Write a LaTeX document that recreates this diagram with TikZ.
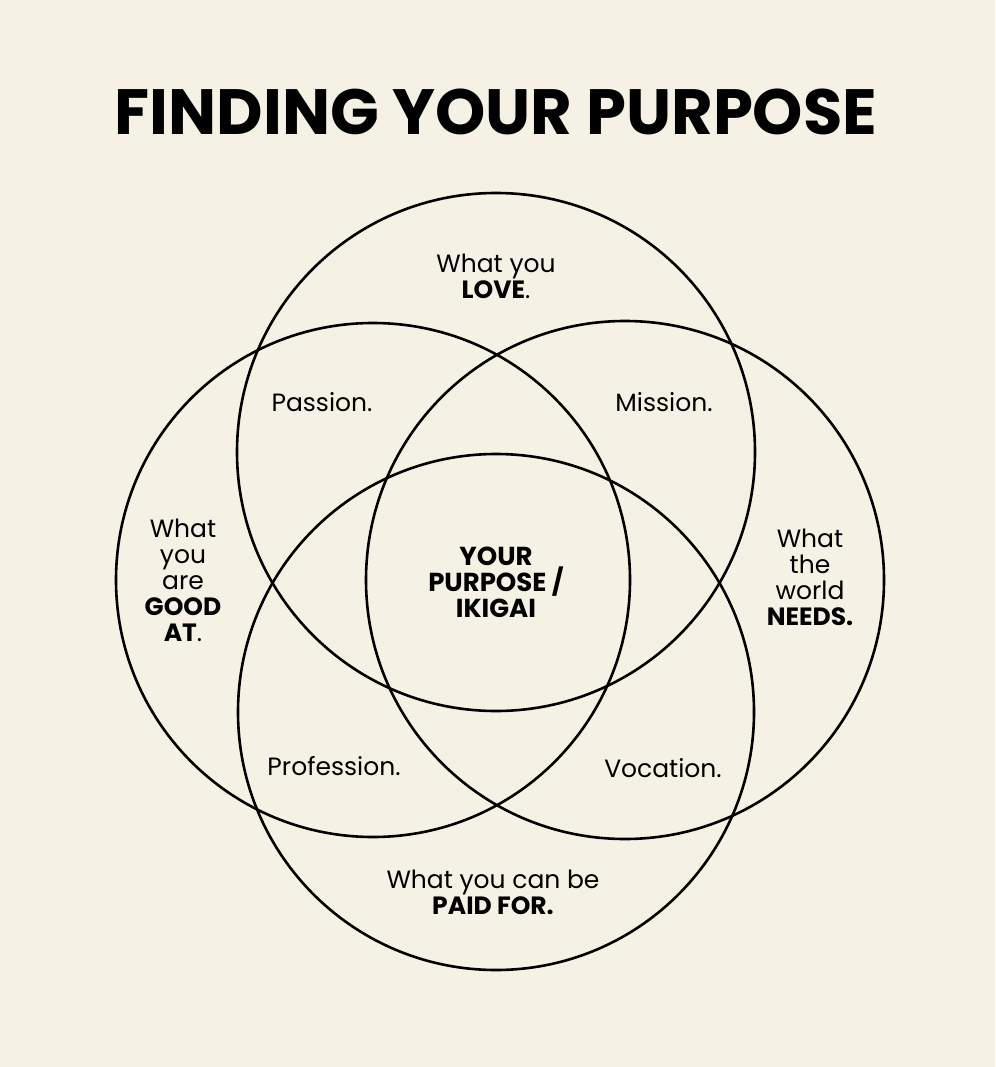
\documentclass[tikz,border=0pt]{standalone}
\usepackage{fontspec}
\setmainfont{Poppins}
\definecolor{bg}{HTML}{F5F1E4}
\begin{document}
\begin{tikzpicture}[x=1pt,y=-1pt,
  ring/.style={draw=black,line width=2.6pt},
  lab/.style={align=center,font=\fontsize{25}{26}\selectfont,inner sep=0pt}]
\useasboundingbox[fill=bg] (0,0) rectangle (995,1067);
\node[font=\fontsize{64}{70}\selectfont\bfseries,inner sep=0pt] (title) at (496,112) {FINDING YOUR PURPOSE};
\draw[ring] (496,452) circle (259);
\draw[ring] (373,580) circle (257);
\draw[ring] (625,580) circle (259);
\draw[ring] (496,712) circle (258);
\node[lab] (love) at (496,276) {What you\\\textbf{LOVE}.};
\node[lab] (passion) at (322,402) {Passion.};
\node[lab] (mission) at (664,402) {Mission.};
\node[lab] (good) at (183,580) {What\\you\\are\\\textbf{GOOD}\\\textbf{AT}.};
\node[lab] (needs) at (810,577) {What\\the\\world\\\textbf{NEEDS.}};
\node[lab,font=\fontsize{26}{26}\selectfont\bfseries] (ikigai) at (496,582) {YOUR\\PURPOSE /\\IKIGAI};
\node[lab] (prof) at (334,766) {Profession.};
\node[lab] (voc) at (663,768) {Vocation.};
\node[lab] (paid) at (493,892) {What you can be\\\textbf{PAID FOR.}};
\end{tikzpicture}
\end{document}
